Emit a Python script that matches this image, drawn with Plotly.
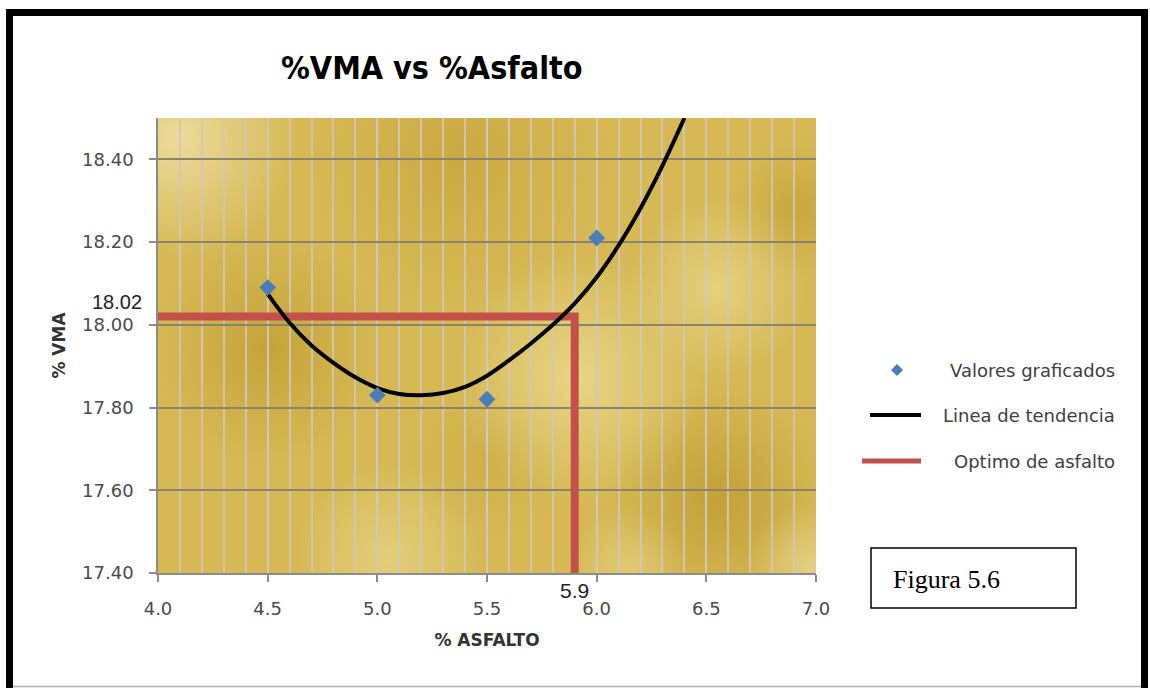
import base64
import plotly.graph_objects as go

# ---- data -------------------------------------------------------------
asfalto = [4.5, 5.0, 5.5, 6.0]              # % asfalto
vma = [18.09, 17.83, 17.82, 18.21]           # % VMA

# trend line, every 0.1 % asfalto
trend_x = [4.5, 4.6, 4.7, 4.8, 4.9, 5.0, 5.1, 5.2, 5.3, 5.4, 5.5, 5.6, 5.7, 5.8, 5.9, 6.0, 6.1, 6.2, 6.3, 6.4]
trend_y = [18.075, 18.005, 17.950, 17.908, 17.873, 17.847, 17.833, 17.830, 17.835, 17.850, 17.877,
           17.914, 17.955, 18.000, 18.052, 18.115, 18.192, 18.282, 18.385, 18.500]

opt_asfalto = 5.9
opt_vma = 18.02

x_range = [4.0, 7.0]
y_range = [17.4, 18.5]
y_ticks = [17.4, 17.6, 17.8, 18.0, 18.2, 18.4]
x_ticks = [4.0, 4.5, 5.0, 5.5, 6.0, 6.5, 7.0]

legend_labels = ["Valores graficados", "Linea de tendencia", "Optimo de asfalto"]

# ---- layout geometry (pixels) -----------------------------------------
FIG_W, FIG_H = 1150, 688
L, R, T, B = 158, 816, 118, 573
PW, PH = R - L, B - T


def px(xp):
    return (xp - L) / PW


def py(yp):
    return (B - yp) / PH


# ---- gold texture for the plot background -----------------------------
blobs = [
    # (cx, cy, r, colour, opacity)
    (110, 230, 115, "#c29f34", 0.85),
    (300, 40, 150, "#c8a43c", 0.75),
    (560, 380, 115, "#c09c33", 0.85),
    (640, 90, 70, "#c6a33c", 0.8),
    (330, 340, 80, "#c9a740", 0.6),
    (20, 20, 120, "#eddd9e", 0.95),
    (420, 260, 125, "#ebd98f", 0.85),
    (560, 170, 90, "#e9d68a", 0.8),
    (230, 440, 95, "#e6d283", 0.85),
    (655, 450, 65, "#e7d48c", 0.85),
    (470, 450, 60, "#e8d58a", 0.6),
]
defs, circles = [], []
for i, (cx, cy, r, col, op) in enumerate(blobs):
    defs.append(
        f'<radialGradient id="g{i}"><stop offset="0" stop-color="{col}" stop-opacity="{op}"/>'
        f'<stop offset="1" stop-color="{col}" stop-opacity="0"/></radialGradient>'
    )
    circles.append(f'<circle cx="{cx}" cy="{cy}" r="{r}" fill="url(#g{i})"/>')
svg = (
    f'<svg xmlns="http://www.w3.org/2000/svg" width="{PW}" height="{PH}" '
    f'viewBox="0 0 {PW} {PH}" preserveAspectRatio="none">'
    f'<defs>{"".join(defs)}</defs>'
    f'<rect width="{PW}" height="{PH}" fill="#d6b955"/>'
    f'{"".join(circles)}</svg>'
)
texture = "data:image/svg+xml;base64," + base64.b64encode(svg.encode()).decode()

# ---- figure -------------------------------------------------------------
fig = go.Figure()

fig.add_trace(go.Scatter(
    x=[x_range[0], opt_asfalto, opt_asfalto], y=[opt_vma, opt_vma, y_range[0]],
    mode="lines", line=dict(color="#c4504c", width=8), hoverinfo="skip",
    showlegend=False, cliponaxis=False,
))
fig.add_trace(go.Scatter(
    x=trend_x, y=trend_y, mode="lines",
    line=dict(color="black", width=4, shape="spline", smoothing=1.0),
    showlegend=False, cliponaxis=False,
))
fig.add_trace(go.Scatter(
    x=asfalto, y=vma, mode="markers",
    marker=dict(symbol="diamond", size=13, color="#4a7ebb"),
    showlegend=False,
))

tick_font = dict(family="DejaVu Sans", size=18, color="#4a4a4a")
title_font = dict(family="DejaVu Sans", size=17, color="#333333", weight="bold")
fig.update_xaxes(
    range=x_range, tickvals=x_ticks, tickformat=".1f",
    showgrid=True, gridcolor="rgba(206,200,188,0.9)", gridwidth=2,
    minor=dict(dtick=0.1, showgrid=True, gridcolor="rgba(206,200,188,0.9)", gridwidth=2),
    showline=True, linecolor="#8c8c8c", linewidth=1.5,
    ticks="outside", ticklen=7, tickcolor="#8c8c8c", tickwidth=1.5,
    ticklabelstandoff=12, tickfont=tick_font, zeroline=False,
    title=dict(text="% ASFALTO", font=title_font, standoff=16),
)
fig.update_yaxes(
    range=y_range, tickvals=y_ticks, tickformat=".2f",
    showgrid=True, gridcolor="#8b846a", gridwidth=1.5,
    showline=True, linecolor="#8c8c8c", linewidth=1.5,
    ticks="outside", ticklen=7, tickcolor="#8c8c8c", tickwidth=1.5,
    ticklabelstandoff=12, tickfont=tick_font, zeroline=False,
    title=dict(text="% VMA", font=title_font, standoff=12),
)

shapes = [
    # outer frame
    dict(type="rect", xref="paper", yref="paper", x0=px(9.5), x1=px(1144.5), y0=py(700), y1=py(12.5),
         line=dict(color="black", width=7), layer="above"),
    dict(type="line", xref="paper", yref="paper", x0=px(13), x1=px(1141), y0=py(686.5), y1=py(686.5),
         line=dict(color="#b0b0b0", width=1.5), layer="above"),
    # figure caption box
    dict(type="rect", xref="paper", yref="paper", x0=px(871), x1=px(1076), y0=py(608), y1=py(548),
         line=dict(color="black", width=1.5), fillcolor="white", layer="above"),
    # legend symbols
    dict(type="path", xref="paper", yref="paper",
         path=f"M {px(897)},{py(364)} L {px(903)},{py(370)} L {px(897)},{py(376)} L {px(891)},{py(370)} Z",
         fillcolor="#4a7ebb", line=dict(width=0), layer="above"),
    dict(type="line", xref="paper", yref="paper", x0=px(870), x1=px(921), y0=py(415), y1=py(415),
         line=dict(color="black", width=4), layer="above"),
    dict(type="line", xref="paper", yref="paper", x0=px(862), x1=px(921), y0=py(461), y1=py(461),
         line=dict(color="#c4504c", width=5), layer="above"),
]

legend_font = dict(family="DejaVu Sans", size=18, color="#404040")
annotations = [
    dict(text="%VMA vs %Asfalto", xref="paper", yref="paper", x=px(432), y=py(68),
         showarrow=False, xanchor="center", yanchor="middle",
         font=dict(family="Liberation Sans Narrow, DejaVu Sans Condensed, DejaVu Sans", size=32,
                   color="black", weight="bold")),
    dict(text="18.02", xref="paper", yref="y", x=px(144), y=opt_vma, yshift=15,
         showarrow=False, xanchor="right", yanchor="middle",
         font=dict(family="Liberation Sans", size=20, color="#222222")),
    dict(text="5.9", xref="x", yref="paper", x=opt_asfalto, y=py(590),
         showarrow=False, xanchor="center", yanchor="middle",
         font=dict(family="Liberation Sans", size=21, color="#222222")),
    dict(text="Figura 5.6", xref="paper", yref="paper", x=px(891), y=py(579),
         showarrow=False, xanchor="left", yanchor="middle",
         font=dict(family="Liberation Serif", size=26, color="black")),
]
for label, ypix in zip(legend_labels, [370, 415, 461]):
    annotations.append(dict(text=label, xref="paper", yref="paper", x=px(1117), y=py(ypix),
                            showarrow=False, xanchor="right", yanchor="middle", font=legend_font))

fig.update_layout(
    width=FIG_W, height=FIG_H,
    margin=dict(l=L, r=FIG_W - R, t=T, b=FIG_H - B, pad=0),
    paper_bgcolor="white", plot_bgcolor="#d6b955",
    showlegend=False,
    images=[dict(source=texture, xref="x", yref="y", x=x_range[0], y=y_range[1],
                 sizex=x_range[1] - x_range[0], sizey=y_range[1] - y_range[0],
                 sizing="stretch", layer="below", xanchor="left", yanchor="top")],
    shapes=shapes, annotations=annotations,
)

fig.write_html("out.html")
